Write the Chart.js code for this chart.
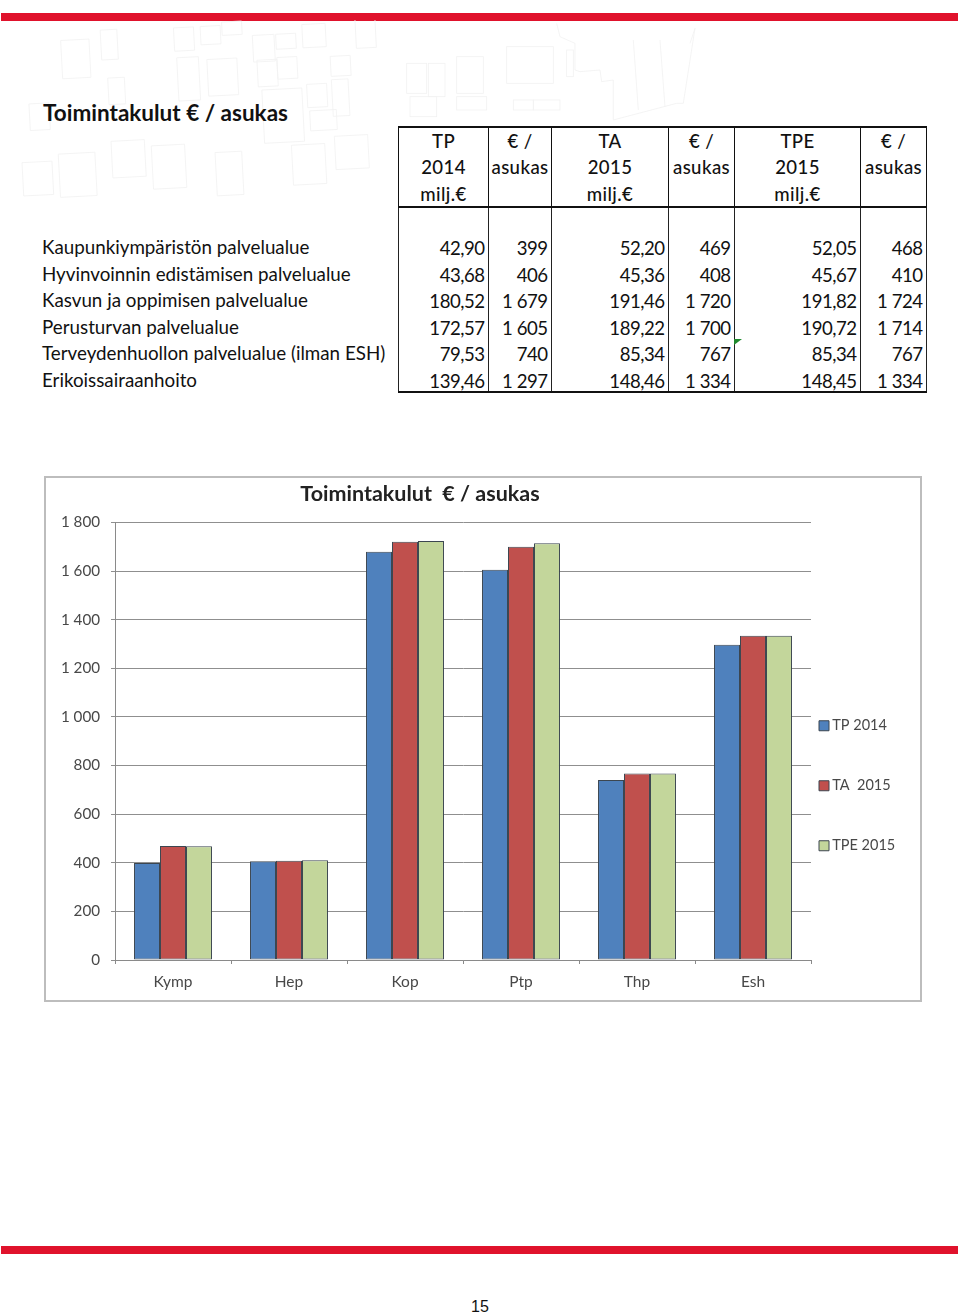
<!DOCTYPE html>
<html lang="fi"><head><meta charset="utf-8">
<style>
html,body{margin:0;padding:0;background:#fff}
body{width:960px;height:1313px;position:relative;overflow:hidden;font-family:Lato,"Open Sans",sans-serif;color:#111}
.bar{position:absolute;left:1px;width:957px;height:8px;background:#e0122c}
#decor{position:absolute;left:0;top:20px}
#decor rect,#decor path{fill:none;stroke:#f2f2f2;stroke-width:2.5}
#heading{position:absolute;left:43px;top:98px;font-size:22.5px;font-weight:700;line-height:30px;white-space:nowrap}
#tbl{position:absolute;left:398px;top:126px;border-collapse:collapse;table-layout:fixed;font-size:18.6px}
#tbl th{font-weight:500;border:1.5px solid #111;border-width:2px 1px;line-height:26.3px;padding:0;text-align:center;vertical-align:top;box-sizing:border-box;letter-spacing:.4px}
#tbl th div{height:78px}
#tbl td{border-left:1px solid #222;border-right:1px solid #222;padding:0 3.5px 0 0;text-align:right;white-space:nowrap;box-sizing:border-box;letter-spacing:-.5px;vertical-align:top}
#tbl td div{height:26.5px;line-height:26.5px}
#tbl tr.gap td div{height:27px}
#tbl tr.last td{border-bottom:2px solid #111}
#tbl tr.last td div{height:23.5px;line-height:26.5px;overflow:visible}
#rows{position:absolute;left:42px;top:234px;font-size:18.8px;line-height:26.5px;white-space:nowrap}
#mark{position:absolute;left:734px;top:339px;width:0;height:0;border-top:6px solid #1f8a2e;border-right:8px solid transparent}
#frame{position:absolute;left:44px;top:476px;width:878px;height:526px;box-sizing:border-box;border:2px solid #bdbdbd}
canvas{position:absolute;left:44px;top:476px}
#pg{position:absolute;left:0;width:960px;top:1298px;text-align:center;font:16px "Liberation Sans",sans-serif;color:#111}
</style></head><body>
<div class="bar" style="top:13px"></div>
<div class="bar" style="top:1246px"></div>
<svg id="decor" width="720" height="190" aria-hidden="true">
<g transform="scale(.3333) rotate(-3 600 300)">
<rect x="195" y="40" width="85" height="115"/><rect x="315" y="15" width="50" height="90"/><rect x="535" y="20" width="60" height="70"/><rect x="615" y="20" width="60" height="55"/><rect x="680" y="10" width="60" height="40"/><rect x="770" y="55" width="65" height="80"/><rect x="840" y="55" width="60" height="45"/><rect x="780" y="130" width="60" height="80"/><rect x="840" y="125" width="60" height="65"/><rect x="920" y="30" width="70" height="70"/><rect x="1000" y="130" width="60" height="60"/><rect x="1080" y="20" width="60" height="90"/><rect x="540" y="110" width="65" height="130"/><rect x="630" y="120" width="90" height="110"/><rect x="925" y="210" width="60" height="70"/><rect x="1000" y="200" width="50" height="110"/><rect x="90" y="225" width="60" height="80"/><rect x="330" y="160" width="50" height="80"/><rect x="790" y="220" width="120" height="160"/><rect x="930" y="290" width="80" height="60"/><rect x="60" y="400" width="90" height="100"/><rect x="170" y="380" width="110" height="130"/><rect x="330" y="350" width="100" height="110"/><rect x="450" y="370" width="100" height="130"/><rect x="640" y="400" width="80" height="130"/><rect x="870" y="390" width="100" height="120"/><rect x="1000" y="370" width="100" height="100"/>
</g>
<g transform="translate(400,0) scale(.3333)">
<rect x="20" y="130" width="60" height="90"/><rect x="85" y="130" width="50" height="100"/><rect x="170" y="110" width="80" height="110"/><rect x="320" y="80" width="140" height="110"/><rect x="500" y="90" width="20" height="80"/><rect x="30" y="230" width="80" height="60"/><rect x="170" y="230" width="90" height="40"/><rect x="340" y="240" width="60" height="30"/><rect x="400" y="240" width="80" height="30"/>
<path d="M470 10L480 50L525 70L525 150L540 155L600 150L605 185L640 180L640 300L830 250L850 250L885 25L870 70M700 60L715 270M780 60L795 260"/>
</g>
</svg>
<div id="heading">Toimintakulut € / asukas</div>
<table id="tbl"><colgroup><col style="width:90px"><col style="width:63px"><col style="width:117px"><col style="width:66px"><col style="width:126px"><col style="width:66px"></colgroup><thead id="th"></thead><tbody id="tb"></tbody></table>
<div id="rows"></div>
<div id="mark"></div>
<div id="frame"></div>
<canvas id="c" width="877" height="525"></canvas>
<div id="pg">15</div>
<script src="https://cdn.jsdelivr.net/npm/chart.js@4"></script>
<script>
const categories=["Kymp","Hep","Kop","Ptp","Thp","Esh"];
const rowNames=["Kaupunkiympäristön palvelualue","Hyvinvoinnin edistämisen palvelualue","Kasvun ja oppimisen palvelualue","Perusturvan palvelualue","Terveydenhuollon palvelualue (ilman ESH)","Erikoissairaanhoito"];
const headers=["TP<br>2014<br>milj.€","€ /<br>asukas","TA<br>2015<br>milj.€","€ /<br>asukas","TPE<br>2015<br>milj.€","€ /<br>asukas"];
const tp2014M=["42,90","43,68","180,52","172,57","79,53","139,46"];
const ta2015M=["52,20","45,36","191,46","189,22","85,34","148,46"];
const tpe2015M=["52,05","45,67","191,82","190,72","85,34","148,45"];
const tp2014=[399,406,1679,1605,740,1297];
const ta2015=[469,408,1720,1700,767,1334];
const tpe2015=[468,410,1724,1714,767,1334];
const fmt=v=>String(v).replace(/\B(?=(\d{3})+$)/g," ");

document.getElementById("th").innerHTML="<tr>"+headers.map(h=>"<th><div>"+h+"</div></th>").join("")+"</tr>";
document.getElementById("tb").innerHTML='<tr class="gap">'+headers.map(()=>"<td><div></div></td>").join("")+'</tr>'+
 rowNames.map((_,i)=>'<tr'+(i==5?' class="last"':'')+'>'+[tp2014M[i],fmt(tp2014[i]),ta2015M[i],fmt(ta2015[i]),tpe2015M[i],fmt(tpe2015[i])].map(v=>"<td><div>"+v+"</div></td>").join("")+"</tr>").join("");
document.getElementById("rows").innerHTML=rowNames.join("<br>");

const ink="#484848";
const place={id:"place",afterLayout(ch){
  const l=ch.legend; l.left=733.5; l.top=197; l.bottom=500; l.right=877;
  const t=ch.titleBlock; t.left=0; t.right=752;
}};
new Chart(document.getElementById("c"),{
 type:"bar",
 data:{labels:categories,datasets:[
  {label:"TP 2014",data:tp2014,backgroundColor:"#4f81bd"},
  {label:"TA  2015",data:ta2015,backgroundColor:"#c0504d"},
  {label:"TPE 2015",data:tpe2015,backgroundColor:"#c3d69b"}
 ].map(d=>Object.assign(d,{borderColor:"#3c4650",borderWidth:1,borderSkipped:false,barPercentage:1,categoryPercentage:0.672}))},
 plugins:[place],
 options:{responsive:false,animation:false,devicePixelRatio:1,
  layout:{padding:{left:0,right:110,top:0,bottom:0}},
  scales:{
   x:{afterFit(s){s.height=41},grid:{offset:true,drawOnChartArea:false,color:"#8a8a8a",tickLength:4},border:{color:"#8a8a8a"},
      ticks:{color:ink,padding:9,font:{family:"Lato",size:15.5},maxRotation:0}},
   y:{min:0,max:1800,afterFit(s){s.width=71},grid:{color:"#8f8f8f",tickLength:4},border:{color:"#8a8a8a"},
      ticks:{stepSize:200,color:ink,padding:11,font:{family:"Lato",size:15.2},callback:v=>fmt(v)}}
  },
  plugins:{
   title:{display:true,text:"Toimintakulut  € / asukas",color:"#222",font:{family:"Lato",size:21.5,weight:"bold"},padding:{top:5,bottom:15.6}},
   legend:{position:"chartArea",align:"start",labels:{usePointStyle:true,pointStyle:"rect",boxWidth:2,boxHeight:10,color:ink,font:{family:"Lato",size:14.5},padding:45.5}},
   tooltip:{enabled:false}
  }}
});
</script></body></html>
